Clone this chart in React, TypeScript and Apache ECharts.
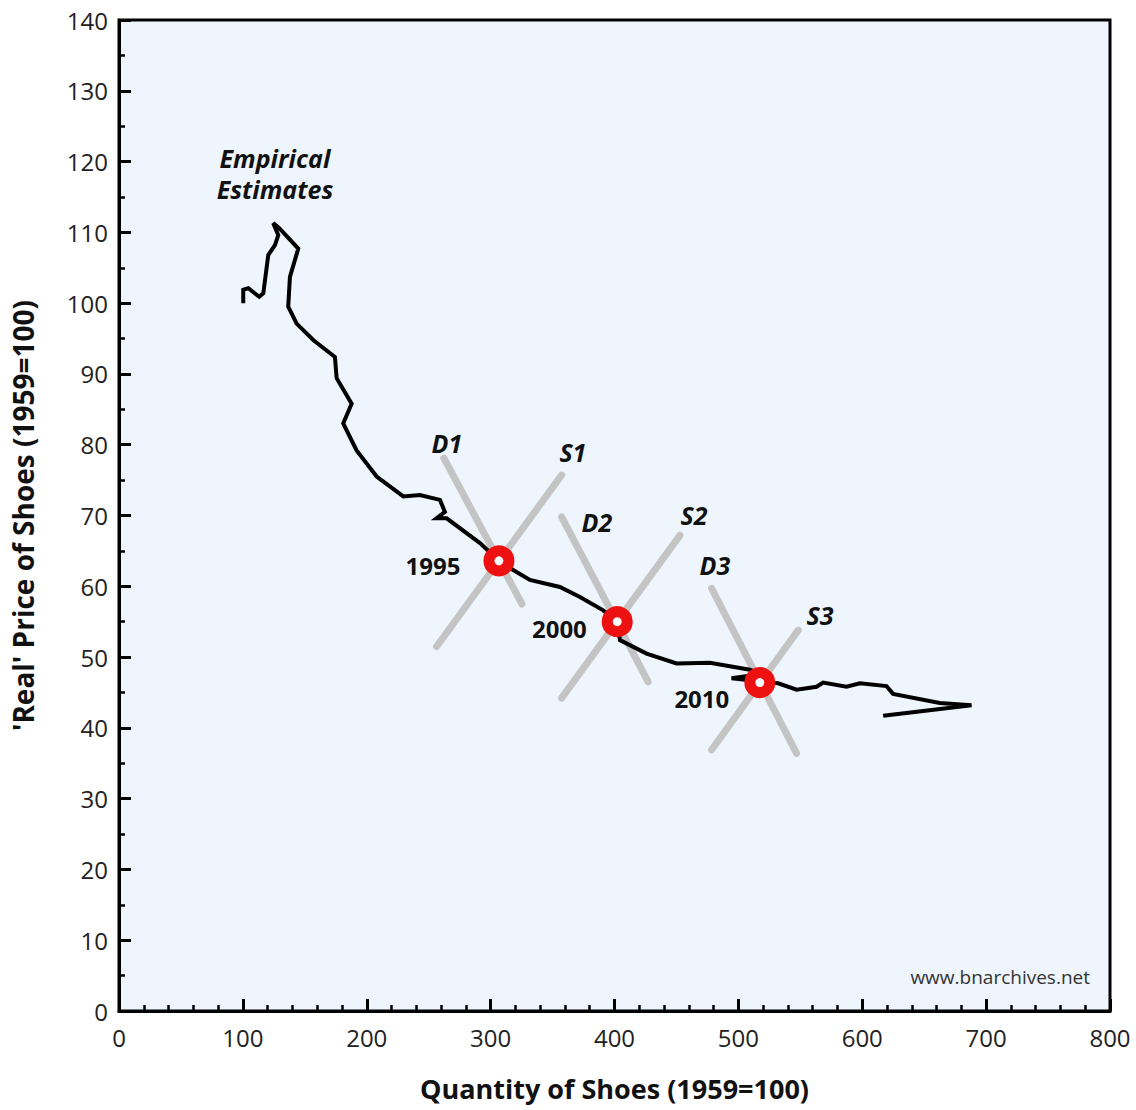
import React, { useEffect, useRef } from "react";
import * as echarts from "echarts";

// Empirical price-quantity path (quantity, real price), 1959=100
const pathQuantity = [100.3, 100.3, 104.4, 113.2, 116.5, 120.5, 125.9, 128.6, 124.5, 129.4, 144.7, 138.0, 136.6, 136.6, 143.4, 156.8, 174.3, 175.7, 187.8, 181.0, 191.8, 208.0, 229.5, 242.9, 259.1, 263.1, 256.4, 264.5, 291.4, 306.7, 318.2, 331.7, 355.9, 372.1, 390.9, 402.2, 404.4, 425.9, 450.1, 477.0, 509.3, 519.0, 494.5, 520.0, 532.1, 547.0, 563.1, 568.4, 587.3, 598.1, 619.6, 624.9, 662.6, 688.2, 616.9];
const pathPrice = [100.0, 101.9, 102.1, 100.9, 101.4, 106.8, 108.2, 109.6, 111.3, 110.6, 107.7, 103.7, 99.5, 99.5, 97.1, 94.8, 92.4, 89.4, 85.8, 83.0, 79.2, 75.5, 72.7, 72.9, 72.2, 70.5, 69.6, 69.6, 66.1, 63.6, 62.3, 60.9, 59.9, 58.5, 56.6, 55.0, 52.4, 50.5, 49.1, 49.2, 48.2, 47.6, 47.0, 46.5, 46.3, 45.4, 45.8, 46.4, 45.8, 46.3, 45.9, 44.8, 43.5, 43.2, 41.7];

// Equilibrium points
const eqYears = ["1995", "2000", "2010"];
const eqQuantity = [306.7, 402.2, 517.3];
const eqPrice = [63.6, 55.0, 46.4];

// Demand / supply schematic lines: [x1, y1, x2, y2]
const curveNames = ["D1", "S1", "D2", "S2", "D3", "S3"];
const curveEnds = [
  [262.3, 78.1, 325.3, 57.5],
  [357.3, 75.7, 256.4, 51.5],
  [357.3, 69.8, 427.2, 46.5],
  [452.8, 67.2, 357.3, 44.2],
  [478.4, 59.7, 547.0, 36.4],
  [548.3, 53.8, 478.4, 36.9],
];
const curveLabelPos = [
  [264.7, 80.2],
  [366.4, 79.0],
  [385.8, 69.1],
  [464.1, 70.1],
  [481.0, 63.0],
  [565.8, 55.9],
];
const yearLabelPos = [
  [253.4, 63.0],
  [355.5, 54.1],
  [470.5, 44.2],
];
const noteLines = ["Empirical", "Estimates"];
const notePos = [
  [125.9, 120.5],
  [125.9, 116.1],
];

const xTicks = [0, 100, 200, 300, 400, 500, 600, 700, 800];
const yTicks = [0, 10, 20, 30, 40, 50, 60, 70, 80, 90, 100, 110, 120, 130, 140];

const FONT = "'Open Sans', 'Noto Sans', sans-serif";

export default function App() {
  const ref = useRef<HTMLDivElement>(null);
  useEffect(() => {
    if (!ref.current) return;
    const chart = echarts.init(ref.current, null, { renderer: "svg" });
    const pathData = pathQuantity.map((q, i) => [q, pathPrice[i]]);
    const curveSeries = curveEnds.map((c, i) => ({
      type: "line",
      name: curveNames[i],
      data: [
        [c[0], c[1]],
        [c[2], c[3]],
      ],
      showSymbol: false,
      symbol: "none",
      lineStyle: { color: "#C4C4C4", width: 7, cap: "round" },
      z: 2,
      silent: true,
    }));
    const labelSeries = (name: string, data: any[], extra: any) => ({
      type: "scatter",
      name,
      data,
      symbolSize: 0,
      itemStyle: { opacity: 1 },
      label: {
        show: true,
        position: "inside",
        formatter: "{b}",
        fontFamily: FONT,
        fontWeight: "bold",
        color: "#111",
        ...extra,
      },
      z: 5,
      silent: true,
    });
    chart.setOption({
      animation: false,
      grid: {
        left: 119,
        top: 20,
        right: 26,
        bottom: 99,
        show: true,
        backgroundColor: "#EEF5FC",
        borderColor: "#000",
        borderWidth: 3,
      },
      xAxis: {
        type: "value",
        min: xTicks[0],
        max: xTicks[xTicks.length - 1],
        interval: 100,
        name: "Quantity of Shoes (1959=100)",
        nameLocation: "middle",
        nameGap: 64,
        nameTextStyle: { fontFamily: FONT, fontWeight: "bold", fontSize: 27, color: "#111" },
        axisLine: { lineStyle: { color: "#000", width: 3 } },
        axisTick: { inside: true, length: 12, lineStyle: { color: "#000", width: 3 } },
        minorTick: { show: true, splitNumber: 5, length: 6, lineStyle: { color: "#000", width: 2.5 } },
        splitLine: { show: false },
        axisLabel: { margin: 14, fontFamily: FONT, fontSize: 24, color: "#222" },
      },
      yAxis: {
        type: "value",
        min: yTicks[0],
        max: yTicks[yTicks.length - 1],
        interval: 10,
        name: "'Real' Price of Shoes (1959=100)",
        nameLocation: "middle",
        nameGap: 82,
        nameTextStyle: { fontFamily: FONT, fontWeight: "bold", fontSize: 28, color: "#111" },
        axisLine: { lineStyle: { color: "#000", width: 3 } },
        axisTick: { inside: true, length: 12, lineStyle: { color: "#000", width: 3 } },
        minorTick: { show: true, splitNumber: 2, length: 6, lineStyle: { color: "#000", width: 2.5 } },
        splitLine: { show: false },
        axisLabel: { margin: 11, fontFamily: FONT, fontSize: 24, color: "#222" },
      },
      graphic: [
        {
          type: "text",
          right: 46,
          bottom: 124,
          style: {
            text: "www.bnarchives.net",
            font: `19px ${FONT}`,
            fill: "#333",
          },
        },
      ],
      series: [
        ...curveSeries,
        {
          type: "line",
          name: "path",
          data: pathData,
          showSymbol: false,
          symbol: "none",
          lineStyle: { color: "#000", width: 4, join: "miter" },
          z: 3,
          silent: true,
        },
        {
          type: "scatter",
          name: "eq",
          data: eqQuantity.map((q, i) => ({ value: [q, eqPrice[i]], name: eqYears[i] })),
          symbol: "circle",
          symbolSize: 20,
          itemStyle: { color: "#fff", borderColor: "#EE1111", borderWidth: 11, opacity: 1 },
          z: 4,
          silent: true,
        },
        labelSeries(
          "curveLabels",
          curveLabelPos.map((p, i) => ({ value: p, name: curveNames[i] })),
          { fontStyle: "italic", fontSize: 25 }
        ),
        labelSeries(
          "yearLabels",
          yearLabelPos.map((p, i) => ({ value: p, name: eqYears[i] })),
          { fontSize: 24 }
        ),
        labelSeries(
          "note",
          notePos.map((p, i) => ({ value: p, name: noteLines[i] })),
          { fontStyle: "italic", fontSize: 25 }
        ),
      ],
    });
    return () => chart.dispose();
  }, []);
  return (
    <div
      ref={ref}
      style={{ position: "absolute", left: 0, top: 0, width: 1136, height: 1110, background: "#fff" }}
    />
  );
}
